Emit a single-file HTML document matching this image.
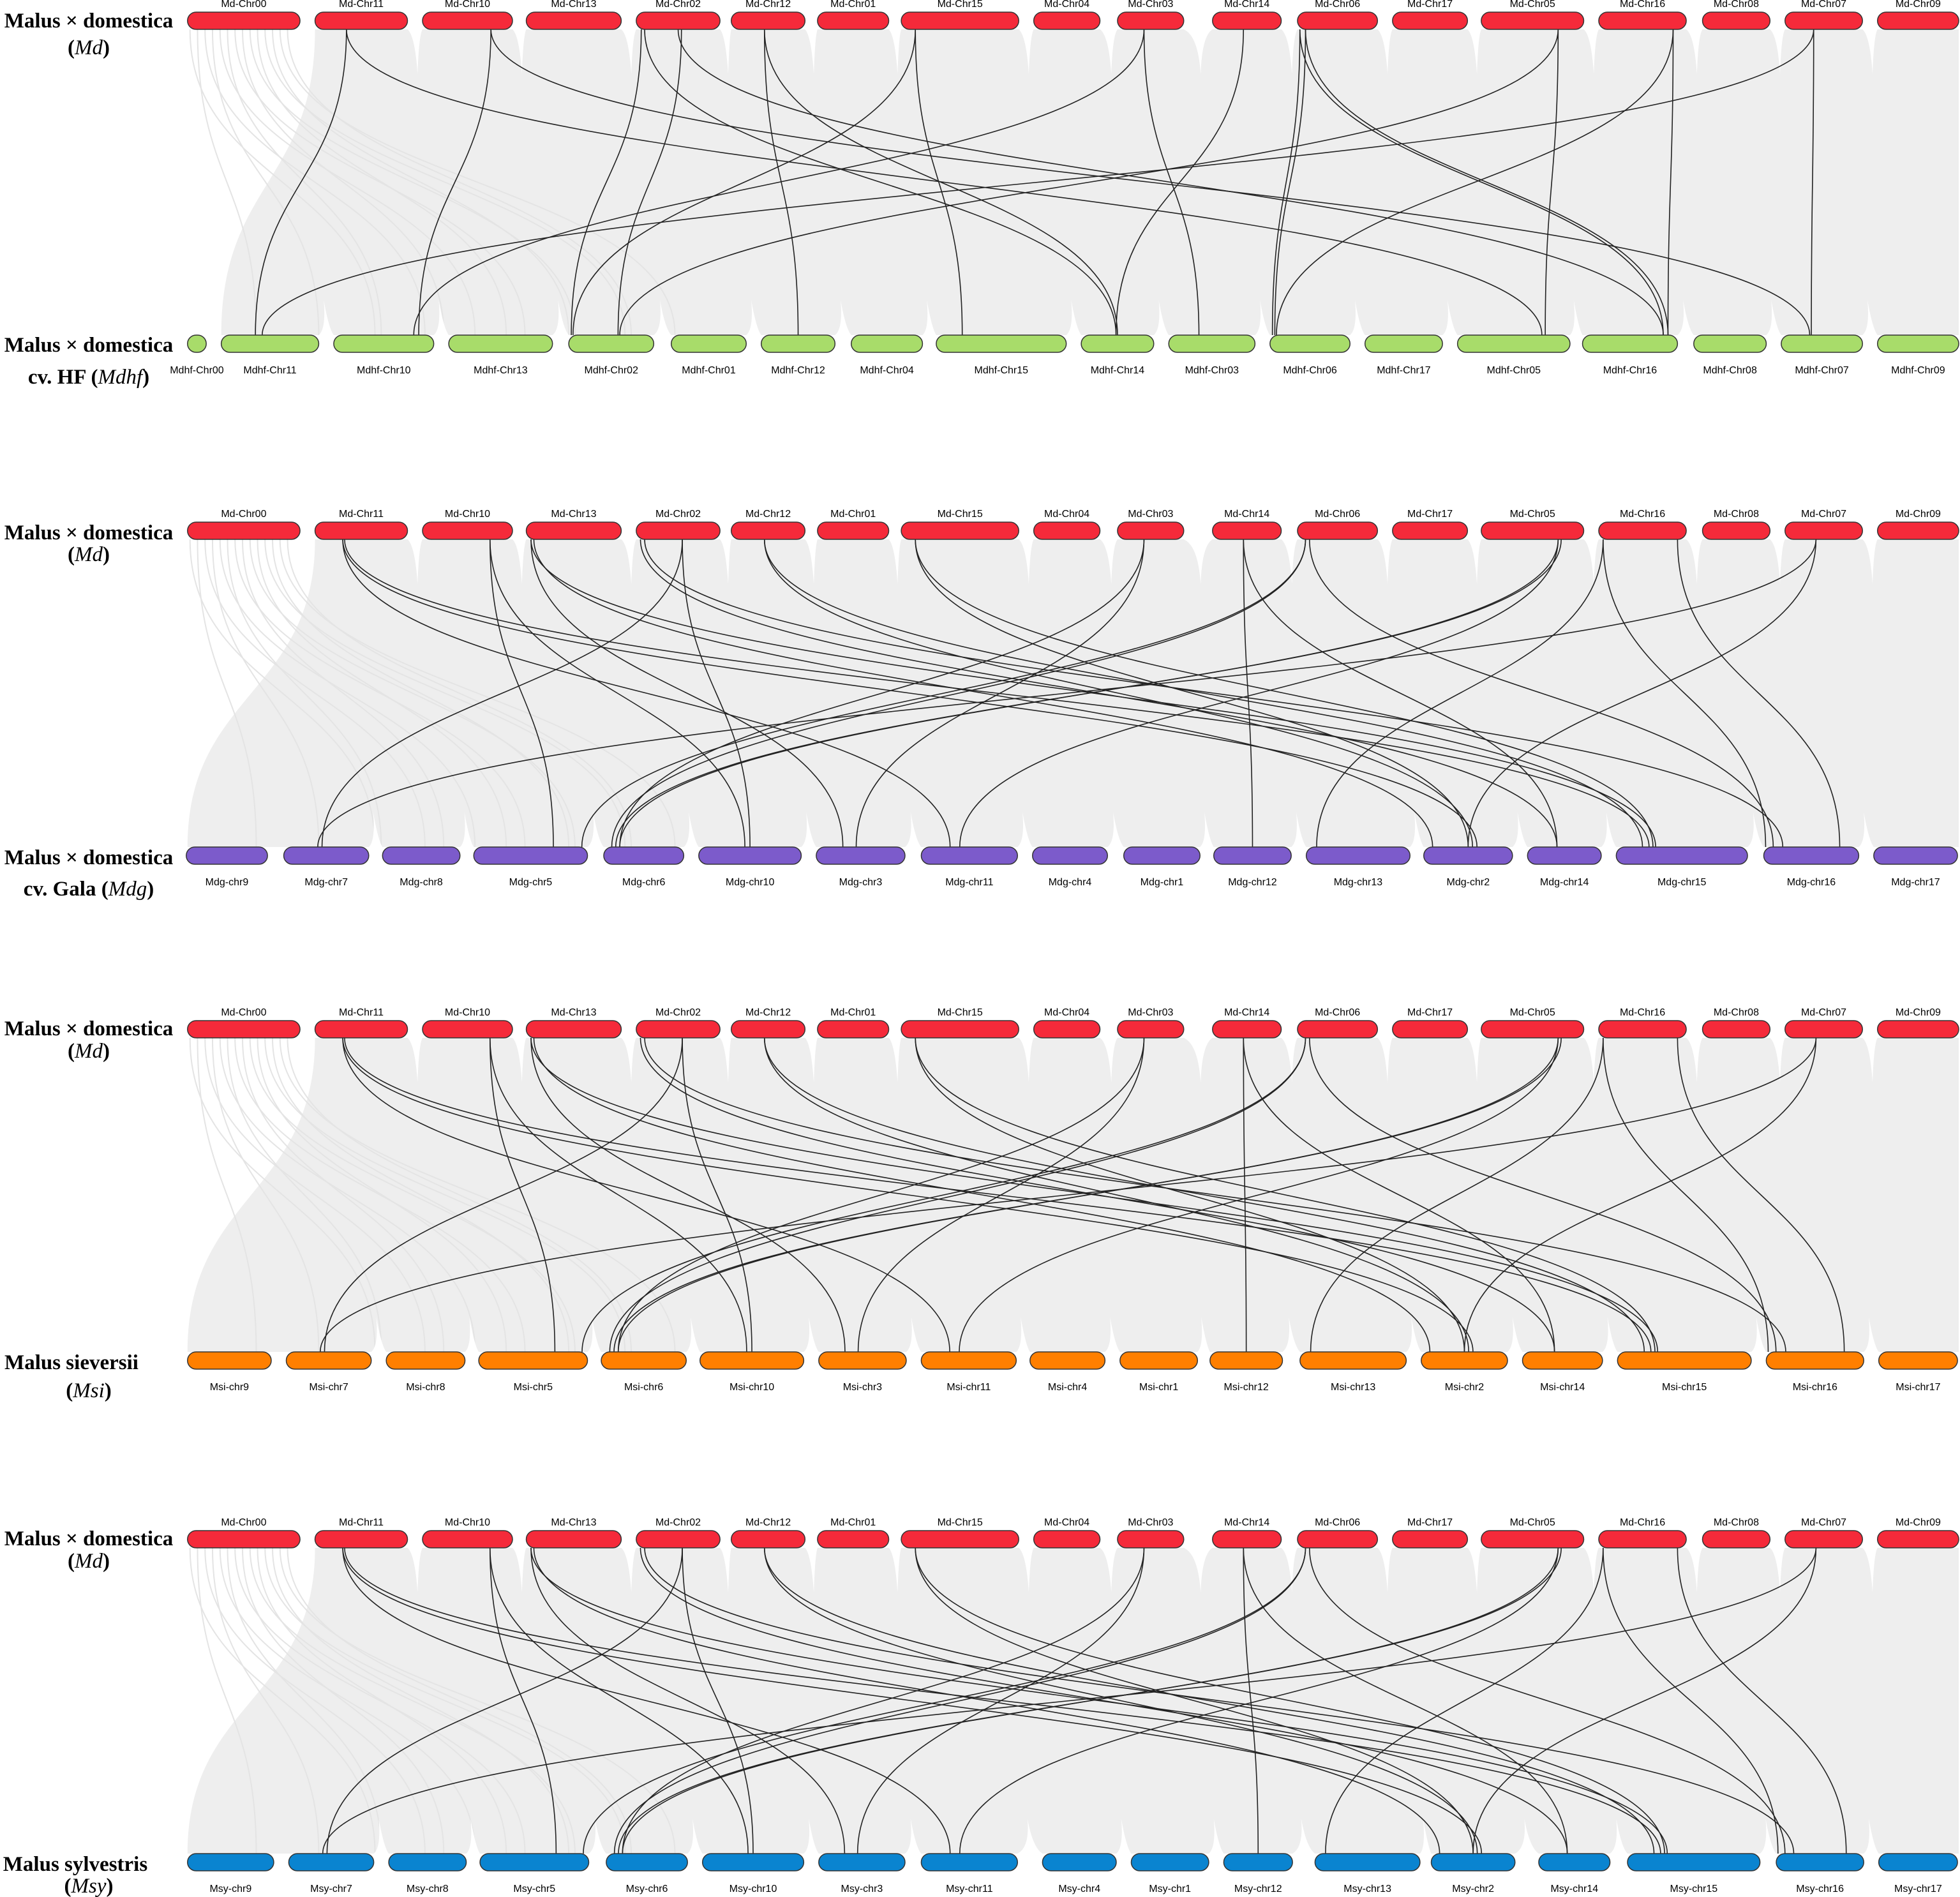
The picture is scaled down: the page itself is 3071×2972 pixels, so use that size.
<!DOCTYPE html>
<html><head><meta charset="utf-8">
<style>
html,body{margin:0;padding:0;background:#fff;}
svg{display:block;}
.chrlab{font-family:"Liberation Sans",sans-serif;font-size:16px;fill:#000;text-anchor:middle;}
.title{font-family:"Liberation Serif",serif;font-size:33px;font-weight:bold;fill:#000;text-anchor:middle;}
</style></head>
<body>
<svg id="chart" width="3071" height="2972" viewBox="0 0 3071 2972" xmlns="http://www.w3.org/2000/svg">
<g id="bg"></g>
<g id="links"></g>
<g id="chrs"></g>
<g id="titles">
<text class="title" x="139" y="43">Malus × domestica</text>
<text class="title" x="139" y="85">(<tspan font-style="italic" font-weight="normal">Md</tspan>)</text>
<text class="title" x="139" y="551">Malus × domestica</text>
<text class="title" x="139" y="601">cv. HF (<tspan font-style="italic" font-weight="normal">Mdhf</tspan>)</text>
<text class="title" x="139" y="845">Malus × domestica</text>
<text class="title" x="139" y="879">(<tspan font-style="italic" font-weight="normal">Md</tspan>)</text>
<text class="title" x="139" y="1354">Malus × domestica</text>
<text class="title" x="139" y="1403">cv. Gala (<tspan font-style="italic" font-weight="normal">Mdg</tspan>)</text>
<text class="title" x="139" y="1622">Malus × domestica</text>
<text class="title" x="139" y="1657">(<tspan font-style="italic" font-weight="normal">Md</tspan>)</text>
<text class="title" x="112" y="2145">Malus sieversii</text>
<text class="title" x="139" y="2189">(<tspan font-style="italic" font-weight="normal">Msi</tspan>)</text>
<text class="title" x="139" y="2421">Malus × domestica</text>
<text class="title" x="139" y="2456">(<tspan font-style="italic" font-weight="normal">Md</tspan>)</text>
<text class="title" x="118" y="2931">Malus sylvestris</text>
<text class="title" x="139" y="2965">(<tspan font-style="italic" font-weight="normal">Msy</tspan>)</text>
</g>
</svg>
<script>
const F = 3071/1568;
// Chromosome extents (layout, overview units)
const mdNames = ["Md-Chr00","Md-Chr11","Md-Chr10","Md-Chr13","Md-Chr02","Md-Chr12","Md-Chr01","Md-Chr15","Md-Chr04","Md-Chr03","Md-Chr14","Md-Chr06","Md-Chr17","Md-Chr05","Md-Chr16","Md-Chr08","Md-Chr07","Md-Chr09"];
const mdSpan = [[150,240],[252,326],[338,410],[421,497],[509,576],[585,644],[654,711],[721,815],[827,880],[894,947],[970,1025],[1038,1102],[1114,1174],[1185,1267],[1279,1349],[1362,1416],[1428,1490],[1502,1567]];
const hfNames = ["Mdhf-Chr00","Mdhf-Chr11","Mdhf-Chr10","Mdhf-Chr13","Mdhf-Chr02","Mdhf-Chr01","Mdhf-Chr12","Mdhf-Chr04","Mdhf-Chr15","Mdhf-Chr14","Mdhf-Chr03","Mdhf-Chr06","Mdhf-Chr17","Mdhf-Chr05","Mdhf-Chr16","Mdhf-Chr08","Mdhf-Chr07","Mdhf-Chr09"];
const hfSpan = [[150,165],[177,255],[267,347],[359,442],[455,523],[537,597],[609,668],[681,738],[749,853],[865,923],[935,1004],[1016,1080],[1092,1154],[1166,1256],[1266,1342],[1355,1413],[1425,1490],[1502,1567]];
const gNum = ["9","7","8","5","6","10","3","11","4","1","12","13","2","14","15","16","17"];
const mdgSpan = [[149,214],[227,295],[306,368],[379,470],[483,547],[559,641],[653,724],[737,814],[826,886],[899,960],[971,1033],[1045,1128],[1139,1210],[1222,1281],[1293,1398],[1411,1487],[1499,1566]];
const msiSpan = [[150,217],[229,297],[309,372],[383,470],[481,549],[560,643],[655,725],[737,813],[824,884],[896,958],[968,1026],[1040,1125],[1137,1206],[1218,1282],[1294,1401],[1413,1491],[1503,1566]];
const msySpan = [[150,219],[231,299],[311,373],[384,471],[485,550],[562,643],[655,724],[737,814],[834,893],[905,967],[979,1034],[1052,1136],[1145,1212],[1231,1288],[1302,1408],[1421,1491],[1503,1566]];

// Links: [top chromosome, fraction, bottom chromosome, fraction]
const linksHF = [
 ["Md-Chr11",.34,"Mdhf-Chr11",.35],["Md-Chr11",.34,"Mdhf-Chr05",.75],
 ["Md-Chr10",.76,"Mdhf-Chr10",.85],["Md-Chr10",.76,"Mdhf-Chr07",.35],
 ["Md-Chr02",.06,"Mdhf-Chr02",.03],["Md-Chr02",.54,"Mdhf-Chr02",.58],
 ["Md-Chr02",.1,"Mdhf-Chr14",.48],["Md-Chr02",.5,"Mdhf-Chr16",.85],
 ["Md-Chr12",.45,"Mdhf-Chr12",.5],["Md-Chr12",.45,"Mdhf-Chr14",.5],
 ["Md-Chr15",.12,"Mdhf-Chr15",.2],["Md-Chr15",.12,"Mdhf-Chr02",.05],
 ["Md-Chr03",.4,"Mdhf-Chr03",.35],["Md-Chr03",.4,"Mdhf-Chr10",.8],
 ["Md-Chr14",.45,"Mdhf-Chr14",.48],
 ["Md-Chr06",.03,"Mdhf-Chr06",.03],["Md-Chr06",.1,"Mdhf-Chr06",.06],
 ["Md-Chr06",.03,"Mdhf-Chr16",.85],["Md-Chr06",.1,"Mdhf-Chr16",.9],
 ["Md-Chr05",.75,"Mdhf-Chr05",.78],["Md-Chr05",.75,"Mdhf-Chr02",.6],
 ["Md-Chr16",.85,"Mdhf-Chr16",.9],["Md-Chr16",.85,"Mdhf-Chr06",.08],
 ["Md-Chr07",.37,"Mdhf-Chr07",.37],["Md-Chr07",.37,"Mdhf-Chr11",.42]
];
const linksG = [
 ["Md-Chr11",.3,"chr11",.3],["Md-Chr11",.3,"chr2",.6],["Md-Chr11",.32,"chr15",.25],
 ["Md-Chr10",.75,"chr5",.7],["Md-Chr10",.75,"chr10",.45],
 ["Md-Chr13",.05,"chr3",.3],["Md-Chr13",.05,"chr15",.3],["Md-Chr13",.08,"chr2",.1],
 ["Md-Chr02",.05,"chr14",.4],["Md-Chr02",.55,"chr7",.45],["Md-Chr02",.1,"chr16",.2],["Md-Chr02",.55,"chr10",.5],
 ["Md-Chr12",.45,"chr2",.55],["Md-Chr12",.45,"chr15",.2],
 ["Md-Chr15",.12,"chr15",.28],["Md-Chr15",.12,"chr2",.5],
 ["Md-Chr03",.4,"chr6",.2],["Md-Chr03",.4,"chr3",.45],
 ["Md-Chr14",.45,"chr12",.5],["Md-Chr14",.45,"chr14",.4],
 ["Md-Chr06",.1,"chr6",.1],["Md-Chr06",.1,"chr5",.95],["Md-Chr06",.15,"chr16",.1],
 ["Md-Chr05",.75,"chr6",.2],["Md-Chr05",.78,"chr6",.15],["Md-Chr05",.75,"chr11",.4],
 ["Md-Chr16",.05,"chr13",.1],["Md-Chr16",.05,"chr16",.02],["Md-Chr16",.9,"chr16",.8],
 ["Md-Chr07",.4,"chr2",.5],["Md-Chr07",.4,"chr7",.4]
];

const panels = [
 {top:19, bot:525, names:hfNames, span:hfSpan, color:"#a8dc6a", links:linksHF, prefix:"", grayL:[252,177]},
 {top:818, bot:1327, names:gNum.map(n=>"Mdg-chr"+n), span:mdgSpan, color:"#7c5bcb", links:linksG, prefix:"Mdg-", grayL:[252,150]},
 {top:1599, bot:2118, names:gNum.map(n=>"Msi-chr"+n), span:msiSpan, color:"#ff7f00", links:linksG, prefix:"Msi-", grayL:[252,150]},
 {top:2398, bot:2904, names:gNum.map(n=>"Msy-chr"+n), span:msySpan, color:"#0a84d0", links:linksG, prefix:"Msy-", grayL:[252,150]}
];
const H = 27;
const NS = "http://www.w3.org/2000/svg";
const bg = document.getElementById('bg'), lk = document.getElementById('links'), cg = document.getElementById('chrs');
function el(tag, attrs, parent){const e=document.createElementNS(NS,tag);for(const k in attrs)e.setAttribute(k,attrs[k]);parent.appendChild(e);return e;}

function drawChr(name, s, y, color, labelY){
  const x1=s[0]*F, x2=s[1]*F, w=x2-x1;
  const r=el('rect',{x:x1,y:y,width:w,height:H,rx:Math.min(H/2,w/2),ry:H/2,fill:color,stroke:"#333","stroke-width":1.5},cg);
  
  
  const t=el('text',{x:(x1+x2)/2,y:labelY,"class":"chrlab"},cg);
  t.textContent=name;
  
  
}

panels.forEach((p,pi)=>{
  const y1=p.top+H, y2=p.bot, ym=(y1+y2)/2;
  // gray ribbon block
  const gl=p.grayL[0]*F, gb=p.grayL[1]*F, R=3069;
  const poly=el('path',{d:`M${gl},${y1} L${R},${y1} L${R},${y2} L${gb},${y2} C${gb},${ym} ${gl},${ym} ${gl},${y1} Z`,fill:"#eeeeee"},bg);
  
  
  // faint lines from Chr00
  for(let i=0;i<14;i++){
    const xs=(152+i*6)*F, xe=(i%2? 180+i*25 : 300+i*20)*F;
    const l=el('path',{d:`M${xs},${y1} C${xs},${ym} ${xe},${ym} ${xe},${y2}`,fill:"none",stroke:"#e4e4e4","stroke-width":2},bg);
    
    
  }
  // notches
  for(let i=1;i<mdSpan.length-1;i++){
    const a=mdSpan[i][1]*F, b=mdSpan[i+1][0]*F, c=(a+b)/2;
    const n=el('path',{d:`M${a},${y1} Q${c},${y1+10} ${c+4},${y1+70} Q${c+6},${y1+10} ${b},${y1} Z`,fill:"#fff"},bg);
    
    
  }
  for(let i=1;i<p.span.length-1;i++){
    const a=p.span[i][1]*F, b=p.span[i+1][0]*F, c=(a+b)/2;
    const n=el('path',{d:`M${a},${y2} Q${c},${y2-10} ${c-4},${y2-55} Q${c+4},${y2-10} ${b},${y2} Z`,fill:"#fff"},bg);
    
    
  }
  // links
  p.links.forEach(L=>{
    const ti=mdNames.indexOf(L[0]);
    const bn = p.prefix ? p.prefix+L[2] : L[2];
    const bi=p.names.indexOf(bn);
    if(ti<0||bi<0) return;
    const ts=mdSpan[ti], bs=p.span[bi];
    const xa=(ts[0]+(ts[1]-ts[0])*L[1])*F, xb=(bs[0]+(bs[1]-bs[0])*L[3])*F;
    const path=el('path',{d:`M${xa},${y1} C${xa},${ym} ${xb},${ym} ${xb},${y2}`,fill:"none",stroke:"#222","stroke-width":1.6},lk);
    
    
  });
  // chromosomes
  mdNames.forEach((n,i)=>drawChr(n, mdSpan[i], p.top, "#f52a3a", p.top-8));
  p.names.forEach((n,i)=>drawChr(n, p.span[i], p.bot, p.color, p.bot+H+33));
});
</script>
</body></html>
